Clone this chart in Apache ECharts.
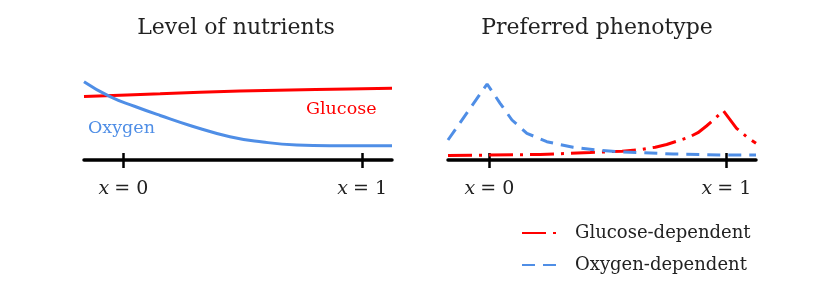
<!DOCTYPE html>
<html><head><meta charset="utf-8">
<script src="https://cdn.jsdelivr.net/npm/echarts@6/dist/echarts.min.js"></script>
<style>html,body{margin:0;padding:0;background:#fff}#c{width:830px;height:288px}</style>
</head><body><div id="c"></div>
<script>
// ---- data ----
const titles = ['Level of nutrients', 'Preferred phenotype'];
const tickValues = [0, 1];
const tickLabels = ['0', '1'];
// left panel: level of nutrients  [x, level]
const glucoseLevel = [[-0.165, 63.5], [0.154, 66.2], [0.488, 69], [0.805, 70.5], [1.125, 71.7]];
const oxygenLevel = [[-0.165, 78.3], [-0.056, 63.3], [0.049, 53.5], [0.154, 44.5],
  [0.279, 34.5], [0.446, 23.3], [0.584, 18], [0.726, 15],
  [0.864, 14.3], [1.0, 14.3], [1.125, 14.3]];
// right panel: preferred phenotype  [x, preference]
const glucoseDependent = [[-0.175, 4.5], [0.214, 5.5], [0.425, 7.5], [0.56, 8.8], [0.636, 10.3], [0.7, 12.8], [0.748, 15.5],
  [0.8, 19.5], [0.839, 22.5], [0.88, 27.3], [0.916, 34], [0.95, 41], [0.987, 49.3], [1.043, 31.7], [1.085, 23.3], [1.125, 16.7]];
const oxygenDependent = [[-0.175, 20], [-0.01, 76], [0.045, 56.7], [0.095, 40], [0.158, 26.7], [0.242, 18.3],
  [0.353, 12.7], [0.454, 10], [0.564, 8], [0.775, 6], [0.987, 5], [1.125, 5]];
const nutrientNames = ['Glucose', 'Oxygen'];
const phenotypeNames = ['Glucose-dependent', 'Oxygen-dependent'];

const RED = '#ff0000', BLUE = '#4f8ee6';
const SERIF = '"DejaVu Serif", serif';

function xAxisPair(gi, min, max) {
  const common = { type: 'value', gridIndex: gi, min: min, max: max, position: 'bottom', offset: 0, splitLine: { show: false } };
  return [
    Object.assign({}, common, {
      axisLine: { show: true, lineStyle: { color: '#000', width: 3.5 } },
      axisTick: { show: true, customValues: tickValues, length: 8, lineStyle: { color: '#000', width: 2.5 } },
      axisLabel: {
        show: true, customValues: tickValues, margin: 20,
        formatter: v => '{i|x}{e|=}' + tickLabels[tickValues.indexOf(v)],
        fontFamily: SERIF, fontSize: 19, color: '#222',
        rich: {
          i: { fontFamily: SERIF, fontStyle: 'italic', fontSize: 19, color: '#222' },
          e: { fontFamily: SERIF, fontSize: 19, color: '#222', padding: [0, 6, 0, 5] }
        }
      }
    }),
    Object.assign({}, common, {
      axisLine: { show: false },
      axisTick: { show: true, inside: true, customValues: tickValues, length: 7, lineStyle: { color: '#000', width: 2.5 } },
      axisLabel: { show: false }
    })
  ];
}

const chart = echarts.init(document.getElementById('c'), null, { renderer: 'canvas' });
chart.setOption({
  animation: false,
  title: [
    { text: titles[0], left: 231, top: 12, textAlign: 'center', textStyle: { fontFamily: SERIF, fontWeight: 'normal', fontSize: 22, color: '#222' } },
    { text: titles[1], left: 592, top: 12, textAlign: 'center', textStyle: { fontFamily: SERIF, fontWeight: 'normal', fontSize: 22, color: '#222' } }
  ],
  grid: [
    { left: 84, width: 308, top: 60, height: 100 },
    { left: 448, width: 308, top: 60, height: 100 }
  ],
  xAxis: [...xAxisPair(0, -0.165, 1.125), ...xAxisPair(1, -0.175, 1.125)],
  yAxis: [
    { type: 'value', gridIndex: 0, min: 0, max: 100, show: false },
    { type: 'value', gridIndex: 1, min: 0, max: 100, show: false }
  ],
  legend: {
    data: phenotypeNames, orient: 'vertical', left: 516, top: 219,
    itemWidth: 40, itemHeight: 14, itemGap: 14,
    itemStyle: { opacity: 0 },
    textStyle: { fontFamily: SERIF, fontSize: 18, color: '#222', padding: [0, 0, 0, 8] }
  },
  series: [
    { name: nutrientNames[0], type: 'line', xAxisIndex: 0, yAxisIndex: 0, data: glucoseLevel, smooth: 0.3, showSymbol: false,
      lineStyle: { color: RED, width: 3 }, itemStyle: { color: RED } },
    { name: nutrientNames[1], type: 'line', xAxisIndex: 0, yAxisIndex: 0, data: oxygenLevel, smooth: 0.5, showSymbol: false,
      lineStyle: { color: BLUE, width: 3 }, itemStyle: { color: BLUE } },
    { name: phenotypeNames[0], type: 'line', xAxisIndex: 2, yAxisIndex: 1, data: glucoseDependent, symbol: 'none',
      lineStyle: { color: RED, width: 3, type: [24, 7, 3, 7] }, itemStyle: { color: RED } },
    { name: phenotypeNames[1], type: 'line', xAxisIndex: 2, yAxisIndex: 1, data: oxygenDependent, symbol: 'none',
      lineStyle: { color: BLUE, width: 3, type: [13, 8] }, itemStyle: { color: BLUE } }
  ],
  graphic: [
    { type: 'text', left: 306, top: 100, style: { text: nutrientNames[0], fill: RED, font: '17.5px ' + SERIF } },
    { type: 'text', left: 88, top: 119, style: { text: nutrientNames[1], fill: BLUE, font: '17.5px ' + SERIF } }
  ]
});
</script></body></html>
